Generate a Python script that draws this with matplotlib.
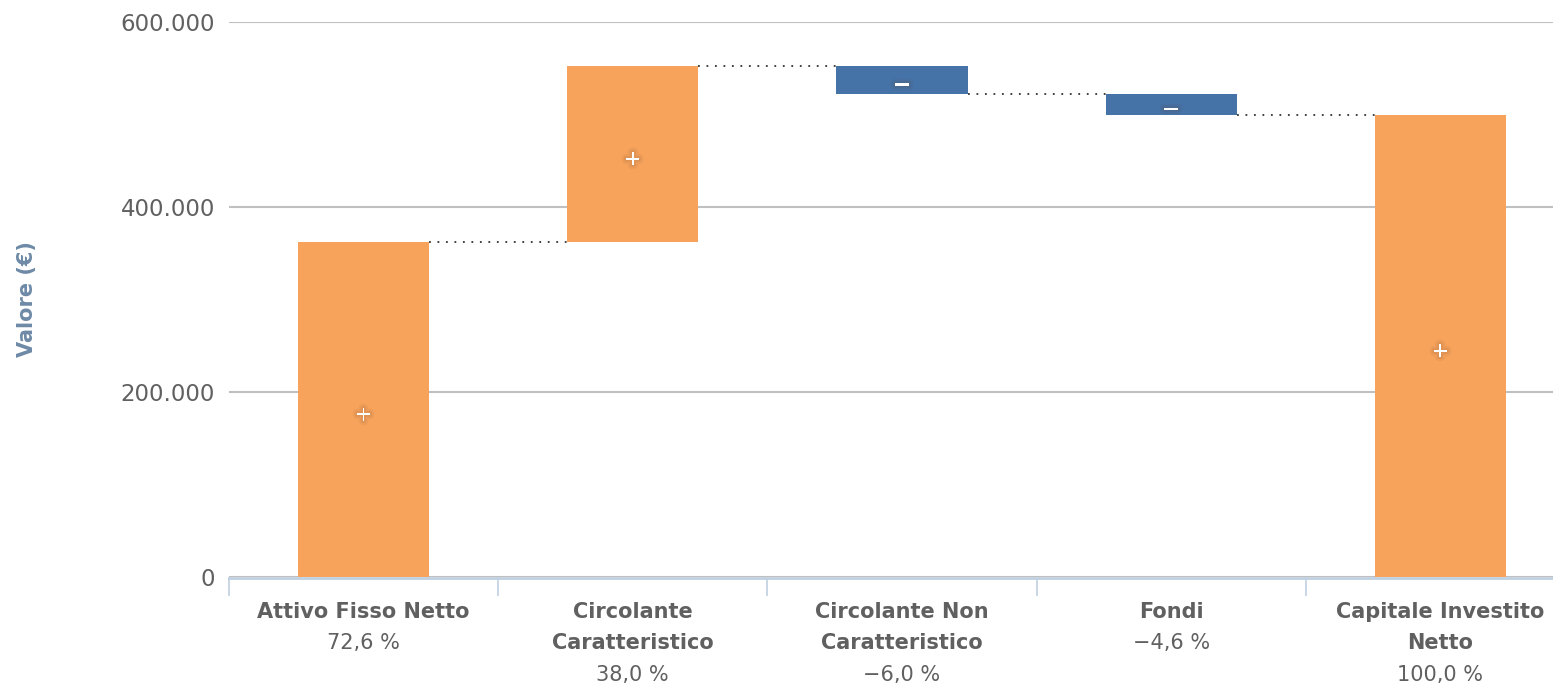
import matplotlib
matplotlib.use("Agg")
import matplotlib.pyplot as plt
import matplotlib.patheffects as pe
import numpy as np

categories = ["Attivo Fisso Netto", "Circolante\nCaratteristico", "Circolante Non\nCaratteristico",
              "Fondi", "Capitale Investito\nNetto"]
values = [362640, 189810, -29970, -22980, 499500]
is_total = [False, False, False, False, True]
percent_labels = ["72,6 %", "38,0 %", "\u22126,0 %", "\u22124,6 %", "100,0 %"]
y_ticks = [0, 200000, 400000, 600000]
y_tick_labels = ["0", "200.000", "400.000", "600.000"]

ORANGE = "#F7A35C"
BLUE = "#4572A7"
TXT = "#606060"

W, H = 1553, 688
y0 = 576.7
ppk = 0.924  # px per 1000
ytop = y0 - 600 * ppk
ax_left = 229
ax_width = 5 * 269.2
fig = plt.figure(figsize=(W / 100, H / 100), dpi=100)
ax = fig.add_axes([ax_left / W, (H - y0) / H, ax_width / W, (y0 - ytop) / H])

x = np.arange(len(values))
bottoms, heights, colors, levels = [], [], [], []
running = 0
for v, tot in zip(values, is_total):
    if tot:
        bottoms.append(0)
        heights.append(v)
        colors.append(ORANGE)
        running = v
    else:
        start = running
        running = running + v
        bottoms.append(min(start, running))
        heights.append(abs(v))
        colors.append(ORANGE if v >= 0 else BLUE)
    levels.append(running)

bw = 0.488
ax.bar(x, heights, bottom=bottoms, width=bw, color=colors, zorder=3, linewidth=0)

# connectors
for i in range(len(values) - 1):
    ax.plot([x[i] + bw / 2, x[i + 1] - bw / 2], [levels[i], levels[i]], linestyle=(0, (1, 3.7)),
            color="#333333", linewidth=1.3, zorder=4)

# +/- labels
shadow = [pe.withStroke(linewidth=6, foreground=(0.35, 0.2, 0.1, 0.06)),
          pe.withStroke(linewidth=3, foreground=(0.35, 0.2, 0.1, 0.08)),
          pe.Normal()]
for i, v in enumerate(values):
    if v >= 0:
        sym, fs, fw = "+", 15, "normal"
    else:
        sym, fs, fw = "\u2212", 16, "bold"
    ax.annotate(sym, xy=(x[i], bottoms[i] + heights[i] / 2), xytext=(0, -4), textcoords="offset points",
                ha="center", va="center", color="white", fontsize=fs, fontweight=fw, zorder=5,
                path_effects=shadow)

ax.set_xlim(-0.5, len(values) - 0.5)
ax.set_ylim(0, 600000)
ax.set_yticks(y_ticks)
ax.set_yticklabels(y_tick_labels, fontsize=16.5, color=TXT)
ax.tick_params(axis="y", length=0, pad=10)
ax.grid(axis="y", color="#C0C0C0", linewidth=1.5, zorder=0)
ax.set_axisbelow(True)
for s in ["top", "right", "left"]:
    ax.spines[s].set_visible(False)
ax.spines["bottom"].set_color("#C0D0E0")
ax.spines["bottom"].set_linewidth(2)
ax.spines["bottom"].set_position(("outward", 1))

ax.set_xticks(np.arange(len(values) + 1) - 0.5)
ax.set_xticklabels([])
ax.tick_params(axis="x", length=13, width=1.2, color="#C0D0E0")

px2pt = 72 / 100
for i, (name, pct) in enumerate(zip(categories, percent_labels)):
    lines = name.split("\n")
    for j, ln in enumerate(lines):
        ax.annotate(ln, xy=(x[i], 0), xycoords=("data", "axes fraction"),
                    xytext=(0, -(35 + j * 31.5) * px2pt), textcoords="offset points",
                    ha="center", va="center", fontsize=15, fontweight="bold", color=TXT)
    ax.annotate(pct, xy=(x[i], 0), xycoords=("data", "axes fraction"),
                xytext=(0, -(35 + len(lines) * 31.5) * px2pt), textcoords="offset points",
                ha="center", va="center", fontsize=15, color=TXT)

fig.text(27 / W, (H - 299) / H, "Valore (\u20ac)", rotation=90, ha="center", va="center",
         fontsize=15, fontweight="bold", color="#6E8AA6")

fig.savefig("out.png", dpi=100)
